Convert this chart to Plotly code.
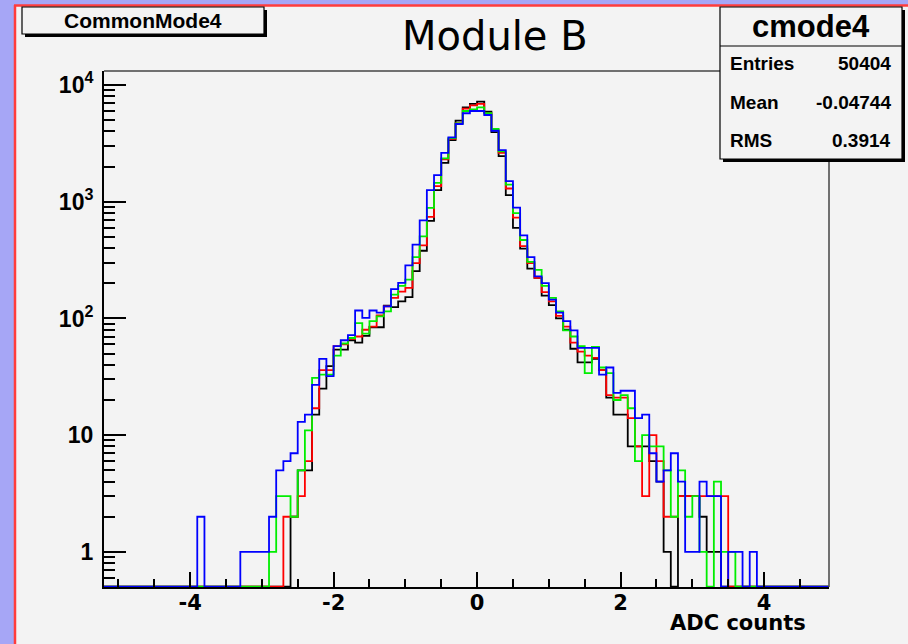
import numpy as np
import plotly.graph_objects as go

# ---------------------------------------------------------------------------
# Histogram contents: 0.1-wide bins, listed from the bin starting at -4.0
# up to the bin starting at 3.9. Bins outside this span are empty.
# ---------------------------------------------------------------------------
hist_min, hist_max = -5.2, 4.9
bin_width = 0.1
first_edge = -4.0

counts_black = [
    0, 0, 0, 0, 0, 0, 0, 0, 0, 0,
    0, 0, 0, 0, 2, 5, 5, 15, 25, 39,
    54, 54, 65, 62, 71, 84, 84, 129, 125, 140,
    152, 254, 380, 685, 1256, 2155, 3370, 4945, 6440, 6880,
    7200, 5900, 3950, 2460, 1138, 596, 396, 267, 223, 157,
    130, 100, 80, 55, 42, 42, 45, 36, 21, 15,
    15, 8, 8, 8, 6, 4, 1, 0, 3, 3,
    3, 2, 1, 1, 0, 0, 0, 0, 0, 0,
]
counts_red = [
    0, 0, 0, 0, 0, 0, 0, 0, 0, 0,
    0, 0, 0, 2, 2, 3, 6, 17, 36, 36,
    58, 60, 67, 70, 80, 85, 106, 127, 150, 170,
    183, 298, 423, 741, 1359, 2304, 3450, 4700, 6270, 6700,
    6880, 5700, 4100, 2624, 1298, 731, 417, 298, 223, 168,
    140, 105, 85, 62, 52, 48, 46, 36, 22, 21,
    21, 14, 8, 3, 10, 6, 2, 2, 3, 3,
    3, 3, 3, 3, 3, 0, 0, 0, 0, 0,
]
counts_green = [
    0, 0, 0, 0, 0, 0, 0, 0, 0, 0,
    0, 1, 3, 3, 2, 5, 11, 31, 33, 33,
    48, 61, 68, 91, 74, 95, 104, 115, 160, 190,
    215, 335, 505, 885, 1451, 2350, 3500, 4700, 5990, 6170,
    6440, 5750, 4200, 2700, 1400, 800, 470, 305, 261, 190,
    150, 115, 79, 70, 58, 34, 57, 38, 34, 20,
    22, 17, 6, 10, 8, 8, 5, 2, 5, 2,
    3, 1, 0, 4, 1, 1, 0, 0, 0, 0,
]
counts_blue = [
    0, 2, 0, 0, 0, 0, 0, 1, 1, 1,
    1, 2, 5, 6, 7, 13, 15, 27, 45, 32,
    58, 65, 72, 117, 101, 117, 112, 127, 178, 202,
    285, 429, 693, 1256, 1690, 2624, 3560, 4635, 5730, 5990,
    5990, 5535, 4055, 2768, 1500, 891, 515, 335, 229, 201,
    145, 112, 95, 79, 56, 56, 56, 33, 38, 23,
    24, 24, 14, 15, 7, 4, 5, 7, 4, 1,
    1, 4, 3, 3, 0, 1, 1, 0, 1, 0,
]

series = [
    ("black", counts_black, "#000000"),
    ("red", counts_red, "#ff0000"),
    ("green", counts_green, "#00ee00"),
    ("blue", counts_blue, "#0000ff"),
]

x_tick_vals = [-4, -2, 0, 2, 4]
x_tick_text = ["-4", "-2", "0", "2", "4"]
y_tick_vals = [1, 10, 100, 1000, 10000]
y_tick_text = ["1", "10", "10<sup>2</sup>", "10<sup>3</sup>", "10<sup>4</sup>"]

title_text = "Module B"
x_title = "ADC counts"
name_box = "CommonMode4"
stats_title = "cmode4"
stats_rows = [("Entries", "50404"), ("Mean", "-0.04744"), ("RMS", "0.3914")]

y_min, y_max = 0.5, 10 ** 4.12
x_axis_range = [-5.2, 4.905]

# ---------------------------------------------------------------------------
W, H = 908, 644
L, R, T, B = 104, 829, 71, 587     # frame of the plotting area (pixels)


def px(x):
    return (x - L) / (R - L)


def py(y):
    return 1 - (y - T) / (B - T)


def step_xy(counts):
    n_bins = int(round((hist_max - hist_min) / bin_width))
    full = np.zeros(n_bins)
    off = int(round((first_edge - hist_min) / bin_width))
    full[off:off + len(counts)] = counts
    edges = hist_min + bin_width * np.arange(n_bins + 1)
    # empty bins are drawn along the lower edge of the log axis
    y = np.where(full > 0, full, y_min * 1.006)
    return edges, np.append(y, y[-1])


fig = go.Figure()
for name, counts, color in series:
    xs, ys = step_xy(counts)
    fig.add_trace(go.Scatter(
        x=xs, y=ys, mode="lines", name=name,
        line=dict(color=color, width=1.8, shape="hv"),
        hoverinfo="skip",
    ))

minor_y = [m * 10 ** k for k in range(-1, 5) for m in range(2, 10)
           if y_min < m * 10 ** k < y_max]

fig.update_layout(
    width=W, height=H,
    margin=dict(l=L, r=W - R, t=T, b=H - B, pad=0),
    paper_bgcolor="#f3f3f3",
    plot_bgcolor="#f3f3f3",
    showlegend=False,
    xaxis=dict(
        range=x_axis_range, showgrid=False, zeroline=False,
        showline=True, linecolor="#000000", linewidth=2,
        ticks="inside", ticklen=15, tickwidth=1.5, tickcolor="#000000",
        tickmode="array", tickvals=x_tick_vals, ticktext=x_tick_text,
        minor=dict(ticks="inside", ticklen=8, tickwidth=1.5, tickcolor="#000000",
                   tickmode="linear", tick0=0, dtick=0.5),
        tickfont=dict(family="DejaVu Sans", size=21, color="#000000", weight="bold"),
        ticklabelstandoff=-4,
    ),
    yaxis=dict(
        type="log", range=[np.log10(y_min), np.log10(y_max)],
        showgrid=False, zeroline=False,
        showline=True, linecolor="#000000", linewidth=2,
        ticks="inside", ticklen=22, tickwidth=1.5, tickcolor="#000000",
        tickmode="array", tickvals=y_tick_vals, ticktext=y_tick_text,
        minor=dict(ticks="inside", ticklen=11, tickwidth=1.5, tickcolor="#000000",
                   tickmode="array", tickvals=minor_y),
        tickfont=dict(family="Liberation Sans", size=23, color="#000000", weight="bold"),
        ticklabelstandoff=4,
    ),
)

shapes = []
# top and right edges of the frame
shapes.append(dict(type="line", xref="paper", yref="paper", x0=0, x1=1, y0=1, y1=1,
                   line=dict(color="#444444", width=1.5), layer="above"))
shapes.append(dict(type="line", xref="paper", yref="paper", x0=1, x1=1, y0=0, y1=1,
                   line=dict(color="#444444", width=1.5), layer="above"))

# canvas border: violet band with a red edge on the left and top
shapes.append(dict(type="rect", xref="paper", yref="paper",
                   x0=px(0), x1=px(14), y0=py(H), y1=py(0),
                   fillcolor="#a6a6f6", line=dict(width=0), layer="above"))
shapes.append(dict(type="rect", xref="paper", yref="paper",
                   x0=px(0), x1=px(W), y0=py(5), y1=py(0),
                   fillcolor="#a6a6f6", line=dict(width=0), layer="above"))
shapes.append(dict(type="line", xref="paper", yref="paper",
                   x0=px(15), x1=px(15), y0=py(H), y1=py(5),
                   line=dict(color="#ff3c3c", width=2.5), layer="above"))
shapes.append(dict(type="line", xref="paper", yref="paper",
                   x0=px(14), x1=px(W), y0=py(5.5), y1=py(5.5),
                   line=dict(color="#ff3c3c", width=2.5), layer="above"))


def boxed(x0, y0, x1, y1, shadow=3):
    shapes.append(dict(type="rect", xref="paper", yref="paper",
                       x0=px(x0 + shadow), x1=px(x1 + shadow),
                       y0=py(y1 + shadow), y1=py(y0 + shadow),
                       fillcolor="#000000", line=dict(width=0), layer="above"))
    shapes.append(dict(type="rect", xref="paper", yref="paper",
                       x0=px(x0), x1=px(x1), y0=py(y1), y1=py(y0),
                       fillcolor="#f3f3f3", line=dict(color="#000000", width=1.2),
                       layer="above"))


boxed(22, 7, 264, 34)
boxed(720, 7, 902, 159)
shapes.append(dict(type="line", xref="paper", yref="paper",
                   x0=px(720), x1=px(902), y0=py(46), y1=py(46),
                   line=dict(color="#000000", width=1.2), layer="above"))
fig.update_layout(shapes=shapes)

ann = []


def text(x, y, s, size, family="Liberation Sans", bold=True, xanchor="center"):
    ann.append(dict(x=px(x), y=py(y), xref="paper", yref="paper", text=s,
                    showarrow=False, xanchor=xanchor, yanchor="middle",
                    font=dict(family=family, size=size, color="#000000",
                              weight="bold" if bold else "normal")))


text(143, 20, name_box, 21)
text(495, 36, title_text, 40, family="DejaVu Sans", bold=False)
text(738, 623, x_title, 21, family="DejaVu Sans")
text(811, 26, stats_title, 31)
for i, (k, v) in enumerate(stats_rows):
    yy = 64 + 38 * i
    text(728, yy, k, 19, xanchor="left")
    text(893, yy, v, 19, xanchor="right")
fig.update_layout(annotations=ann)

fig.write_html("out.html")
